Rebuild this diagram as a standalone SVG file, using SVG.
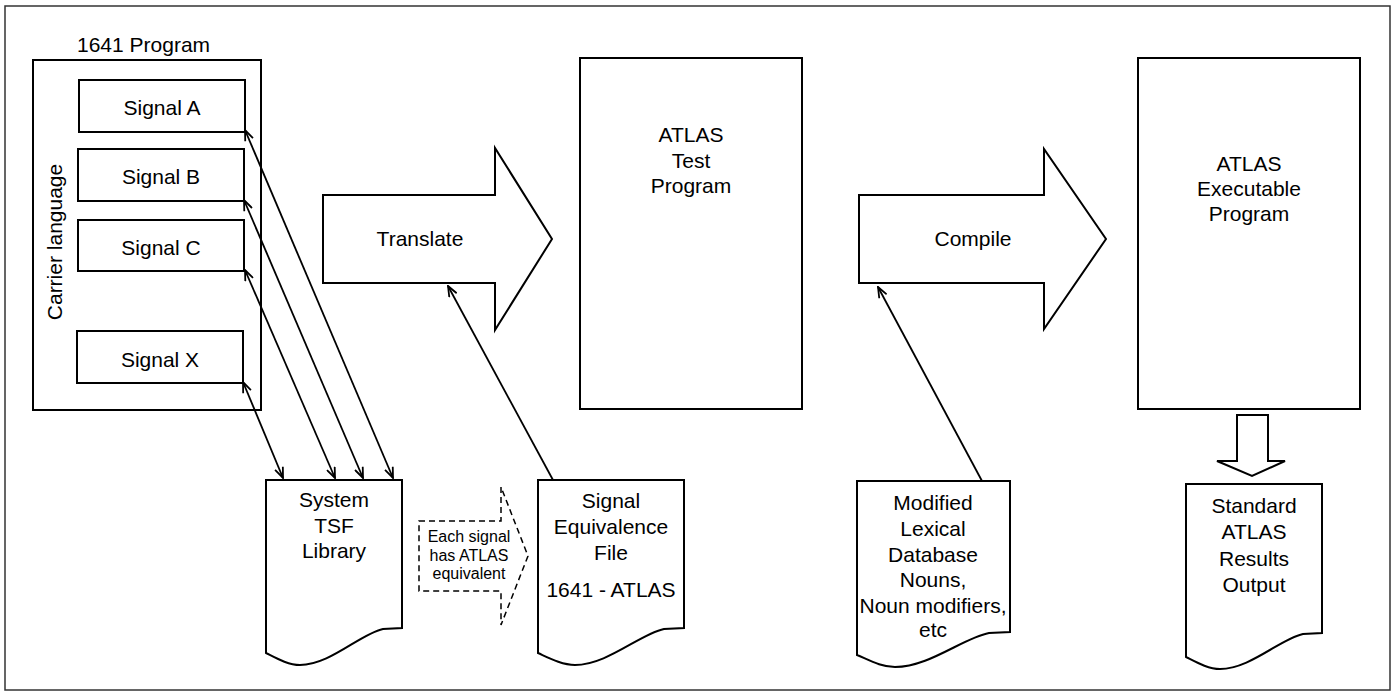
<svg xmlns="http://www.w3.org/2000/svg" width="1394" height="696" viewBox="0 0 1394 696">
<style>
.box{fill:#fff;stroke:#000;stroke-width:2}
.t{font-family:"Liberation Sans",Arial,sans-serif;font-size:21px;fill:#000;text-anchor:middle}
.s{font-family:"Liberation Sans",Arial,sans-serif;font-size:16px;fill:#000;text-anchor:middle}
.ln{fill:none;stroke:#000;stroke-width:1.8}
</style>
<defs>
<marker id="ah" markerUnits="userSpaceOnUse" viewBox="0 0 12 10" refX="11" refY="5" markerWidth="12" markerHeight="10" orient="auto-start-reverse">
<path d="M0.5,0.8 L11,5 L0.5,9.2" fill="none" stroke="#000" stroke-width="1.8"/>
</marker>
</defs>
<rect width="1394" height="696" fill="#fff"/>
<rect x="5" y="6" width="1385" height="684" fill="none" stroke="#333" stroke-width="1.5"/>

<g id="program1641">
<text x="77" y="52" class="t" style="text-anchor:start">1641 Program</text>
<rect x="33" y="60" width="228" height="350" class="box"/>
<text transform="translate(62,242) rotate(-90)" class="t">Carrier language</text>
</g>
<g id="signalA"><rect x="79" y="80" width="166" height="52" class="box"/><text x="162" y="115" class="t">Signal A</text></g>
<g id="signalB"><rect x="78" y="149" width="166" height="52" class="box"/><text x="161" y="184" class="t">Signal B</text></g>
<g id="signalC"><rect x="78" y="220" width="166" height="51" class="box"/><text x="161" y="254.5" class="t">Signal C</text></g>
<g id="signalX"><rect x="77" y="331" width="166" height="52" class="box"/><text x="160" y="367" class="t">Signal X</text></g>

<g id="translate">
<polygon points="323,195 495,195 495,148 552,239 495,330 495,283 323,283" class="box"/>
<text x="420" y="246" class="t">Translate</text>
</g>
<g id="atlasTest">
<rect x="580" y="58" width="222" height="351" class="box"/>
<text x="691" y="142" class="t">ATLAS</text>
<text x="691" y="167.5" class="t">Test</text>
<text x="691" y="193" class="t">Program</text>
</g>
<g id="compile">
<polygon points="859,195 1044,195 1044,149 1106,239 1044,329 1044,283 859,283" class="box"/>
<text x="973" y="246" class="t">Compile</text>
</g>
<g id="atlasExec">
<rect x="1138" y="58" width="222" height="351" class="box"/>
<text x="1249" y="171" class="t">ATLAS</text>
<text x="1249" y="196" class="t">Executable</text>
<text x="1249" y="221" class="t">Program</text>
</g>
<g id="outputArrow">
<polygon points="1237,415 1268,415 1268,461 1285,461 1252,476 1217,461 1237,461" class="box"/>
</g>

<g id="tsfLibrary">
<path d="M266,480 H402 V628 L383,629 C360,634 330,665 300,665 C288,665 276,658 266,653 Z" class="box"/>
<text x="334" y="507" class="t">System</text>
<text x="334" y="532.5" class="t">TSF</text>
<text x="334" y="558" class="t">Library</text>
</g>
<g id="equivNote">
<polygon points="419,521 501,521 501,487 528,556 501,625 501,591 419,591" fill="#fff" stroke="#000" stroke-width="1.5" stroke-dasharray="6,4"/>
<text x="469" y="542" class="s">Each signal</text>
<text x="469" y="561" class="s">has ATLAS</text>
<text x="469" y="579" class="s">equivalent</text>
</g>
<g id="signalEquivFile">
<path d="M538,480 H684 V628 L664,629 C640,634 607,665 575,665 C562,665 549,658 538,653 Z" class="box"/>
<text x="611" y="508" class="t">Signal</text>
<text x="611" y="534" class="t">Equivalence</text>
<text x="611" y="560" class="t">File</text>
<text x="611" y="597" class="t">1641 - ATLAS</text>
</g>
<g id="lexicalDb">
<path d="M857,481 H1010 V632 L989,633 C963,638 929,667 895,667 C881,667 869,660 857,655 Z" class="box"/>
<text x="933" y="510" class="t">Modified</text>
<text x="933" y="536" class="t">Lexical</text>
<text x="933" y="562" class="t">Database</text>
<text x="933" y="587" class="t">Nouns,</text>
<text x="933" y="612.5" class="t">Noun modifiers,</text>
<text x="933" y="637" class="t">etc</text>
</g>
<g id="resultsOutput">
<path d="M1186,484 H1322 V633 L1303,634 C1280,639 1250,669 1220,669 C1208,669 1196,662 1186,657 Z" class="box"/>
<text x="1254" y="513" class="t">Standard</text>
<text x="1254" y="539" class="t">ATLAS</text>
<text x="1254" y="566" class="t">Results</text>
<text x="1254" y="592" class="t">Output</text>
</g>

<g id="connectors">
<line x1="245" y1="130" x2="393" y2="478" class="ln" marker-start="url(#ah)" marker-end="url(#ah)"/>
<line x1="244" y1="200" x2="363" y2="478" class="ln" marker-start="url(#ah)" marker-end="url(#ah)"/>
<line x1="245" y1="270" x2="335" y2="478" class="ln" marker-start="url(#ah)" marker-end="url(#ah)"/>
<line x1="243" y1="382" x2="283" y2="478" class="ln" marker-start="url(#ah)" marker-end="url(#ah)"/>
<line x1="553" y1="480" x2="448" y2="286" class="ln" marker-end="url(#ah)"/>
<line x1="982" y1="481" x2="878" y2="287" class="ln" marker-end="url(#ah)"/>
</g>
</svg>
